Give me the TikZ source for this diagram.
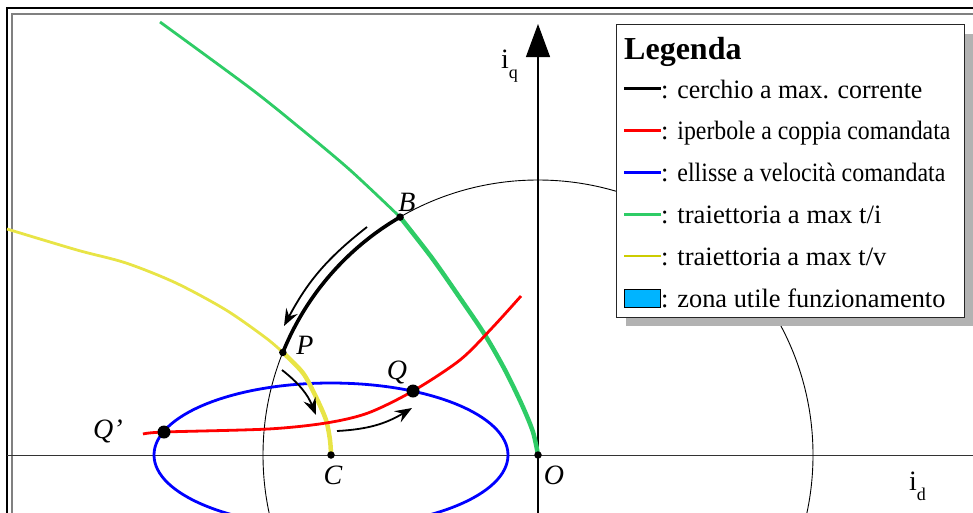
\documentclass[tikz,border=0pt]{standalone}
\usepackage{fontspec}
\usepackage{graphicx}
\setmainfont{Liberation Serif}
\usetikzlibrary{arrows.meta, calc}

\definecolor{curvagreen}{RGB}{46,204,102}
\definecolor{curvayellow}{RGB}{232,228,70}
\definecolor{legyellow}{RGB}{204,204,0}
\definecolor{zonablue}{RGB}{0,180,255}
\definecolor{framegray}{RGB}{128,128,128}
\definecolor{shadowgray}{RGB}{178,178,178}

\newcommand{\legline}[1]{\textcolor{#1}{\rule[8pt]{37pt}{2.8pt}}}
\newcommand{\legzone}{{\setlength{\fboxsep}{0pt}\setlength{\fboxrule}{1pt}\fcolorbox{black}{zonablue}{\rule{0pt}{17pt}\hspace{35pt}}}}
\newcommand{\legtext}[2]{\resizebox{#1}{\height}{#2}}

\begin{document}
\begin{tikzpicture}[x=1pt, y=-1pt,
  ptdot/.style={circle, fill=black, inner sep=0pt, minimum size=7.5pt},
  bigdot/.style={ptdot, minimum size=13pt},
  ptlabel/.style={font=\fontsize{28}{28}\selectfont\itshape, inner sep=0pt},
  axlabel/.style={font=\fontsize{28}{28}\selectfont, inner sep=0pt, anchor=base west},
  movearrow/.style={line width=1.8pt, -{Stealth[length=17pt, width=13pt, inset=6pt]}},
  thincurve/.style={line width=2.8pt},
  thickcurve/.style={line width=4.5pt}]
  \useasboundingbox (0,0) rectangle (973,512);
  \clip (0,0) rectangle (973,512);

  % frame
  \draw[line width=1.6pt] (7,530) -- (7,8) -- (990,8);
  \draw[framegray, line width=2.5pt] (12,530) -- (12,14) -- (990,14);

  % points
  \coordinate (O) at (538,455);
  \coordinate (C) at (331,455);
  \coordinate (B) at ($(O)+(120.1:275pt)$);
  \coordinate (P) at ($(O)+(158.1:275pt)$);
  \coordinate (Q) at (413,391);
  \coordinate (Q') at (164,432);

  % axes
  \draw[line width=0.9pt, black!80] (7,455) -- (990,455);
  \draw[line width=1.1pt, -{Triangle[length=33pt, width=24pt]}] (538,530) -- (538,24);
  \node[axlabel] (iq) at (501,68) {i\raisebox{-10pt}{\fontsize{18}{18}\selectfont q}};
  \node[axlabel] (id) at (909,490) {i\raisebox{-10pt}{\fontsize{18}{18}\selectfont d}};

  % curves
  \draw[line width=0.9pt] (O) circle[radius=275pt];
  \draw[blue, thincurve] (C) ellipse[x radius=177pt, y radius=72pt];
  \draw[curvagreen, thincurve] plot[smooth] coordinates {(160,22) (250,88) (300,128) (350,170) (B)};
  \draw[curvagreen, thickcurve] plot[smooth] coordinates {(B) (432,258) (460,298) (485,335) (505,370) (522,405) (533,432) (O)};
  \draw[curvayellow, thincurve] plot[smooth] coordinates {(7,229) (77,250) (126,263) (176,283) (226,310) (266,338) (P)};
  \draw[curvayellow, thickcurve] plot[smooth] coordinates {(P) (303,373) (316,397) (326,420) (330,440) (C)};
  \draw[red, thincurve] plot[smooth] coordinates {(143,434) (Q') (268,429) (326,423) (368,413) (Q) (460,360) (492,328) (521,296)};
  \draw[line width=3.6pt] (B) arc[start angle=120.1, end angle=158.1, radius=275pt];

  % moves
  \coordinate (m1s) at (367,227);
  \coordinate (m1e) at (284,326);
  \coordinate (m2s) at (282,370);
  \coordinate (m2e) at (316,415);
  \coordinate (m3s) at (337,431);
  \coordinate (m3e) at (412,408);
  \draw[movearrow] (m1s) to[bend right=12] (m1e);
  \draw[movearrow] (m2s) to[bend left=15] (m2e);
  \draw[movearrow] (m3s) to[bend right=14] (m3e);

  % dots and labels
  \node[ptdot] (dotB) at (B) {};
  \node[ptdot] (dotP) at (P) {};
  \node[ptdot] (dotC) at (C) {};
  \node[ptdot] (dotO) at (O) {};
  \node[bigdot] (dotQ) at (Q) {};
  \node[bigdot] (dotQq) at (Q') {};
  \node[ptlabel] (labB) at (407,202) {B};
  \node[ptlabel] (labP) at (305,345) {P};
  \node[ptlabel] (labQ) at (397,372) {Q};
  \node[ptlabel] (labQq) at (108,431) {Q’};
  \node[ptlabel] (labC) at (333,475) {C};
  \node[ptlabel] (labO) at (554,475) {O};

  % legend
  \fill[shadowgray] (626,34) rectangle (990,326);
  \node[draw=black!85, fill=white, line width=1pt, anchor=north west, minimum width=348pt, minimum height=293pt, inner sep=0pt] (legend) at (616,24) {};
  \node[anchor=north west, inner sep=0pt, font=\fontsize{26.5}{41.8}\selectfont] (legendtext) at (624,29.7) {
    \begin{tabular}{@{}l@{}}
      \textbf{\fontsize{32}{32}\selectfont Legenda} \\[-2.8pt]
      \legline{black}: \legtext{245pt}{cerchio a max. corrente} \\
      \legline{red}: \legtext{273pt}{iperbole a coppia comandata} \\
      \legline{blue}: \legtext{268pt}{ellisse a velocità comandata} \\
      \legline{curvagreen}: \legtext{204pt}{traiettoria a max t/i} \\
      \legline{legyellow}: \legtext{209pt}{traiettoria a max t/v} \\
      \legzone: \legtext{268pt}{zona utile funzionamento} \\
    \end{tabular}
  };
\end{tikzpicture}
\end{document}
